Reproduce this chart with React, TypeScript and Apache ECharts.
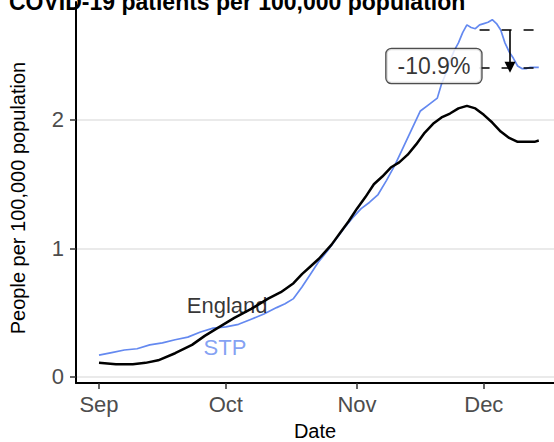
import React, { useEffect, useRef } from "react";
import * as echarts from "echarts";

const titleText = "COVID-19 patients per 100,000 population";
const yTitleText = "People per 100,000 population";
const xTickDays = [0, 30, 61, 91];
const xTickLabels = ["Sep", "Oct", "Nov", "Dec"];
const yTickValues = [0, 1, 2];

const englandDays = [0, 4, 8, 11, 14, 18, 22, 25, 28, 32, 36, 40, 43, 46, 48, 50, 52, 55, 57, 59, 61, 63, 65, 67, 69, 71, 73, 75, 77, 79, 81, 83, 85, 87, 89, 91, 93, 95, 97, 99, 101, 103, 104];
const englandValues = [0.11, 0.1, 0.1, 0.11, 0.13, 0.185, 0.25, 0.32, 0.38, 0.46, 0.53, 0.61, 0.66, 0.73, 0.8, 0.86, 0.92, 1.03, 1.12, 1.21, 1.31, 1.4, 1.5, 1.56, 1.63, 1.67, 1.73, 1.81, 1.9, 1.97, 2.02, 2.05, 2.09, 2.11, 2.09, 2.04, 1.98, 1.91, 1.86, 1.83, 1.83, 1.83, 1.84];

const stpDays = [0, 3, 6, 9, 12, 15, 18, 21, 24, 27, 30, 33, 36, 39, 42, 44, 46, 48, 50, 52, 54, 56, 58, 60, 62, 64, 66, 68, 70, 72, 74, 76, 78, 80, 81, 82, 83, 84, 85, 86, 87, 88, 89, 90, 91, 92, 93, 94, 95, 96, 97, 98, 99, 100, 101, 102, 103, 104];
const stpValues = [0.17, 0.19, 0.21, 0.22, 0.25, 0.265, 0.29, 0.31, 0.35, 0.38, 0.39, 0.41, 0.45, 0.49, 0.54, 0.57, 0.61, 0.7, 0.8, 0.9, 0.98, 1.07, 1.16, 1.24, 1.31, 1.36, 1.42, 1.53, 1.65, 1.79, 1.93, 2.07, 2.12, 2.17, 2.28, 2.36, 2.46, 2.54, 2.6, 2.68, 2.74, 2.72, 2.71, 2.74, 2.75, 2.76, 2.78, 2.75, 2.7, 2.6, 2.53, 2.48, 2.42, 2.4, 2.4, 2.41, 2.41, 2.41];

const peakValue = 2.7;
const currentValue = 2.41;
const changeLabel = "-10.9%";
const refLineStartDay = 90;
const refLineEndDay = 103;
const arrowDay = 97.2;
const changeLabelPos = [79.2, 2.42];
const seriesNames = ["England", "STP"];
const seriesLabelPos = [
  [30.3, 0.553],
  [29.8, 0.228],
];

const FONT = "Liberation Sans, Arial, sans-serif";
const BLUE = "#6489f0";

export default function App() {
  const ref = useRef<HTMLDivElement>(null);
  useEffect(() => {
    if (!ref.current) return;
    const chart = echarts.init(ref.current, null, { renderer: "svg" });
    const englandData = englandDays.map((d, i) => [d, englandValues[i]]);
    const stpData = stpDays.map((d, i) => [d, stpValues[i]]);
    chart.setOption({
      animation: false,
      backgroundColor: "#fff",
      textStyle: { fontFamily: FONT },
      grid: { left: 76, right: 0, top: 2, bottom: 59, containLabel: false, outerBoundsMode: "none" },
      graphic: [
        {
          type: "text",
          x: 9,
          y: 2,
          style: {
            text: titleText,
            fontFamily: FONT,
            fontSize: 23,
            fontWeight: "bold",
            fill: "#000",
            verticalAlign: "middle",
            align: "left",
          },
        },
        {
          type: "text",
          x: 18,
          y: 198,
          rotation: Math.PI / 2,
          style: {
            text: yTitleText,
            fontFamily: FONT,
            fontSize: 20,
            fill: "#000",
            verticalAlign: "middle",
            align: "center",
          },
        },
      ],
      xAxis: {
        type: "value",
        min: -5.44,
        max: 107.6,
        name: "Date",
        nameLocation: "middle",
        nameGap: 38,
        nameTextStyle: { fontSize: 20, color: "#000", fontFamily: FONT },
        axisLine: { show: true, onZero: false, lineStyle: { color: "#000", width: 2 } },
        axisTick: { show: true, customValues: xTickDays, length: 6, lineStyle: { color: "#333", width: 1.5 } },
        axisLabel: {
          customValues: xTickDays,
          margin: 10,
          fontSize: 22,
          color: "#4d4d4d",
          fontFamily: FONT,
          formatter: (v: number) => {
            const i = xTickDays.indexOf(Math.round(v));
            return i >= 0 ? xTickLabels[i] : "";
          },
        },
        splitLine: { show: false },
      },
      yAxis: {
        type: "value",
        min: -0.0467,
        max: 2.918,
        axisLine: { show: true, onZero: false, lineStyle: { color: "#000", width: 2 } },
        axisTick: { show: true, customValues: yTickValues, length: 6, lineStyle: { color: "#333", width: 1.5 } },
        axisLabel: {
          customValues: yTickValues,
          margin: 12,
          fontSize: 22,
          color: "#4d4d4d",
          fontFamily: FONT,
          formatter: (v: number) => String(Math.round(v)),
        },
        splitLine: { show: true, lineStyle: { color: "#e3e3e3", width: 1.5 } },
      },
      series: [
        {
          name: seriesNames[0],
          type: "line",
          data: englandData,
          showSymbol: false,
          symbol: "none",
          lineStyle: { color: "#000", width: 2.5 },
          z: 3,
          markLine: {
            silent: true,
            symbol: ["none", "none"],
            label: { show: false },
            animation: false,
            data: [
              [
                { coord: [refLineStartDay, peakValue], lineStyle: { type: [10, 12], color: "#000", width: 1.6 } },
                { coord: [refLineEndDay, peakValue] },
              ],
              [
                { coord: [refLineStartDay, currentValue], lineStyle: { type: [10, 12], color: "#000", width: 1.6 } },
                { coord: [refLineEndDay, currentValue] },
              ],
              [
                { coord: [arrowDay, peakValue], symbol: "none", lineStyle: { type: "solid", color: "#000", width: 1.6 } },
                { coord: [arrowDay, currentValue], symbol: "triangle", symbolSize: [11, 11] },
              ],
            ],
          },
        },
        {
          name: seriesNames[1],
          type: "line",
          data: stpData,
          showSymbol: false,
          symbol: "none",
          lineStyle: { color: BLUE, width: 1.7 },
          z: 2,
        },
        {
          type: "scatter",
          data: [changeLabelPos],
          symbolSize: 0,
          z: 10,
          silent: true,
          label: {
            show: true,
            position: "inside",
            formatter: changeLabel,
            fontSize: 23,
            color: "#000",
            fontFamily: FONT,
            backgroundColor: "#fff",
            borderColor: "#222",
            borderWidth: 1.3,
            borderRadius: 5,
            padding: [6, 11, 5, 11],
          },
        },
        {
          type: "scatter",
          data: seriesLabelPos.map((p, i) => ({
            value: p,
            name: seriesNames[i],
            label: { color: i === 0 ? "#000" : BLUE },
          })),
          symbolSize: 0,
          z: 10,
          silent: true,
          label: {
            show: true,
            position: "inside",
            formatter: (p: any) => p.name,
            fontSize: 22,
            fontFamily: FONT,
          },
          labelLayout: { hideOverlap: false },
        },
      ],
    });
    return () => chart.dispose();
  }, []);
  return (
    <div
      ref={ref}
      style={{ width: 554, height: 442, position: "absolute", left: 0, top: 0, overflow: "hidden" }}
    />
  );
}
